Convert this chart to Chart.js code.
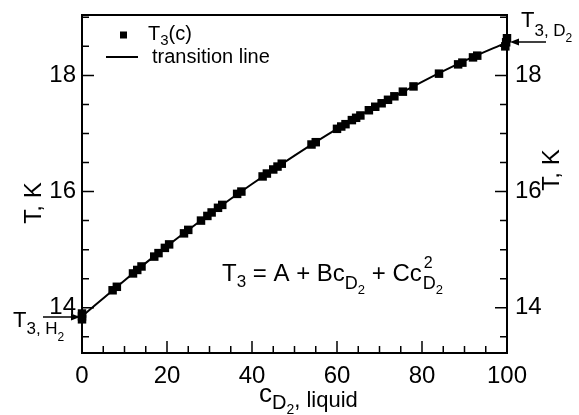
<!DOCTYPE html>
<html>
<head>
<meta charset="utf-8">
<script src="https://cdn.jsdelivr.net/npm/chart.js@4.4.1/dist/chart.umd.min.js"></script>
<style>
    html, body { margin: 0; padding: 0; background: #fff; }
</style>
</head>
<body>
<canvas id="grafiek" width="579" height="415"></canvas>
<script>
// Tripelpunt T3 tegen D2-concentratie in de vloeistof (%)
const conc = [0, 0, 0, 7.2, 8.2, 12, 13, 14, 17, 18, 19.5, 20.5, 24, 25, 28, 29.5, 30.5, 32, 33,
    36.5, 37.5, 42.5, 43.5, 45, 46, 47, 54, 55, 60, 61, 62, 63.5, 64.5, 65.5, 67.5, 69,
    70.5, 72, 73.5, 75.5, 78, 84, 88.5, 89.5, 92, 93, 99.6, 99.8, 100];
const temp = [13.80, 13.85, 13.90, 14.30, 14.36, 14.59, 14.65, 14.71, 14.88, 14.94, 15.03, 15.09,
    15.28, 15.34, 15.50, 15.58, 15.64, 15.72, 15.77, 15.96, 16.00, 16.26, 16.31, 16.38,
    16.43, 16.48, 16.81, 16.85, 17.08, 17.12, 17.16, 17.23, 17.27, 17.31, 17.40, 17.46,
    17.52, 17.58, 17.64, 17.72, 17.81, 18.03, 18.19, 18.22, 18.31, 18.34, 18.50, 18.57, 18.64];

// Overgangslijn
const lijnConc = [0, 10, 20, 30, 40, 50, 60, 70, 80, 90, 100];
const lijnTemp = [13.85, 14.47, 15.06, 15.61, 16.13, 16.62, 17.08, 17.50, 17.89, 18.25, 18.57];

const xTicks = [0, 20, 40, 60, 80, 100];
const yTicks = [14, 16, 18];

const FONT = '"Liberation Sans", Arial, Helvetica, sans-serif';
Chart.defaults.font.family = FONT;
Chart.defaults.color = '#000';

function tekst(ctx, x, y, delen) {
    for (const [t, size, dy] of delen) {
        ctx.font = size + 'px ' + FONT;
        ctx.fillText(t, x, y + dy);
        x += ctx.measureText(t).width;
    }
    return x;
}

function pijl(ctx, x1, y1, x2, y2) {
    const hoek = Math.atan2(y2 - y1, x2 - x1);
    ctx.beginPath();
    ctx.moveTo(x1, y1);
    ctx.lineTo(x2 - 7 * Math.cos(hoek), y2 - 7 * Math.sin(hoek));
    ctx.lineWidth = 1.5;
    ctx.stroke();
    ctx.beginPath();
    ctx.moveTo(x2, y2);
    ctx.lineTo(x2 - 9 * Math.cos(hoek) + 3.5 * Math.sin(hoek), y2 - 9 * Math.sin(hoek) - 3.5 * Math.cos(hoek));
    ctx.lineTo(x2 - 9 * Math.cos(hoek) - 3.5 * Math.sin(hoek), y2 - 9 * Math.sin(hoek) + 3.5 * Math.cos(hoek));
    ctx.closePath();
    ctx.fill();
}

// Kader, naar binnen gerichte streepjes en alle losse teksten
const kader = {
    id: 'kader',
    afterDraw(chart) {
        const { ctx, chartArea: a, scales } = chart;
        const x = scales.x, y = scales.y;
        ctx.save();
        ctx.strokeStyle = '#000';
        ctx.fillStyle = '#000';
        ctx.lineWidth = 2;
        ctx.strokeRect(a.left, a.top, a.right - a.left, a.bottom - a.top);

        ctx.lineWidth = 1.5;
        ctx.beginPath();
        for (let v = 5; v < 100; v += 5) {
            const px = x.getPixelForValue(v);
            const len = v % 20 === 0 ? 12 : 7;
            ctx.moveTo(px, a.bottom);
            ctx.lineTo(px, a.bottom - len);
        }
        for (let v = 13.5; v <= 19; v += 0.5) {
            const py = y.getPixelForValue(v);
            const len = v % 2 === 0 ? 12 : 7;
            ctx.moveTo(a.left, py);
            ctx.lineTo(a.left + len, py);
            ctx.moveTo(a.right, py);
            ctx.lineTo(a.right - len, py);
        }
        ctx.stroke();

        // legende
        ctx.fillRect(120, 31.5, 7, 7);
        tekst(ctx, 148, 40, [['T', 20, 0], ['3', 15, 5], ['(c)', 20, 0]]);
        ctx.lineWidth = 2;
        ctx.beginPath();
        ctx.moveTo(106, 57);
        ctx.lineTo(138, 57);
        ctx.stroke();
        tekst(ctx, 152, 63, [['transition line', 20, 0]]);

        // formule
        const fx = tekst(ctx, 222, 281, [['T', 24, 0], ['3', 17, 6], [' = A + Bc', 24, 0],
            ['D', 18, 8], ['2', 13, 13], [' + Cc', 24, 0]]);
        tekst(ctx, fx + 1, 281, [['D', 18, 8], ['2', 13, 13]]);
        tekst(ctx, fx + 2, 268, [['2', 16, 0]]);

        // pijlen naar de tripelpunten van H2 en D2
        tekst(ctx, 13, 327, [['T', 22, 0], ['3, H', 17, 7], ['2', 12, 14]]);
        pijl(ctx, 43, 317, 80, 317);
        tekst(ctx, 521, 27, [['T', 22, 0], ['3, D', 17, 9], ['2', 12, 15]]);
        pijl(ctx, 546, 42, 510, 42);

        // astitels
        tekst(ctx, 259, 402, [['c', 26, 0], ['D', 20, 7], ['2', 14, 12], [', liquid', 22, 5]]);
        ctx.font = '24px ' + FONT;
        ctx.textAlign = 'center';
        ctx.save();
        ctx.translate(41, 203);
        ctx.rotate(-Math.PI / 2);
        ctx.fillText('T, K', 0, 0);
        ctx.restore();
        ctx.save();
        ctx.translate(559, 170);
        ctx.rotate(-Math.PI / 2);
        ctx.fillText('T, K', 0, 0);
        ctx.restore();
        ctx.restore();
    }
};

const yAs = (positie, breedte, pad) => ({
    type: 'linear',
    position: positie,
    min: 13.22,
    max: 19.04,
    grid: { display: false, drawTicks: false },
    border: { display: false },
    ticks: { stepSize: 2, padding: pad, font: { size: 24 } },
    afterBuildTicks: s => { s.ticks = s.ticks.filter(t => yTicks.includes(t.value)); },
    afterFit: s => {
        s.width = breedte;
        s.paddingTop = 0;
        s.paddingBottom = 0;
    }
});

new Chart(document.getElementById('grafiek'), {
    type: 'scatter',
    data: {
        datasets: [{
            label: 'T3(c)',
            data: conc.map((c, i) => ({ x: c, y: temp[i] })),
            pointStyle: 'rect',
            pointRadius: 6,
            backgroundColor: '#000',
            borderColor: '#000',
            borderWidth: 0,
            clip: false
        }, {
            label: 'transition line',
            data: lijnConc.map((c, i) => ({ x: c, y: lijnTemp[i] })),
            showLine: true,
            pointRadius: 0,
            borderColor: '#000',
            borderWidth: 2,
            cubicInterpolationMode: 'monotone',
            clip: false
        }]
    },
    options: {
        responsive: false,
        animation: false,
        devicePixelRatio: 1,
        layout: { padding: { top: 15, left: 0, right: 0, bottom: 0 } },
        plugins: { legend: { display: false }, tooltip: { enabled: false } },
        scales: {
            x: {
                type: 'linear',
                min: 0,
                max: 100,
                grid: { display: false, drawTicks: false },
                border: { display: false },
                ticks: { stepSize: 20, padding: 9, font: { size: 24 }, maxRotation: 0 },
                afterBuildTicks: s => { s.ticks = s.ticks.filter(t => xTicks.includes(t.value)); },
                afterFit: s => {
                    s.height = 62;
                    s.paddingLeft = 0;
                    s.paddingRight = 0;
                }
            },
            y: yAs('left', 82, 6),
            y2: yAs('right', 72, 8)
        }
    },
    plugins: [kader]
});
</script>
</body>
</html>
